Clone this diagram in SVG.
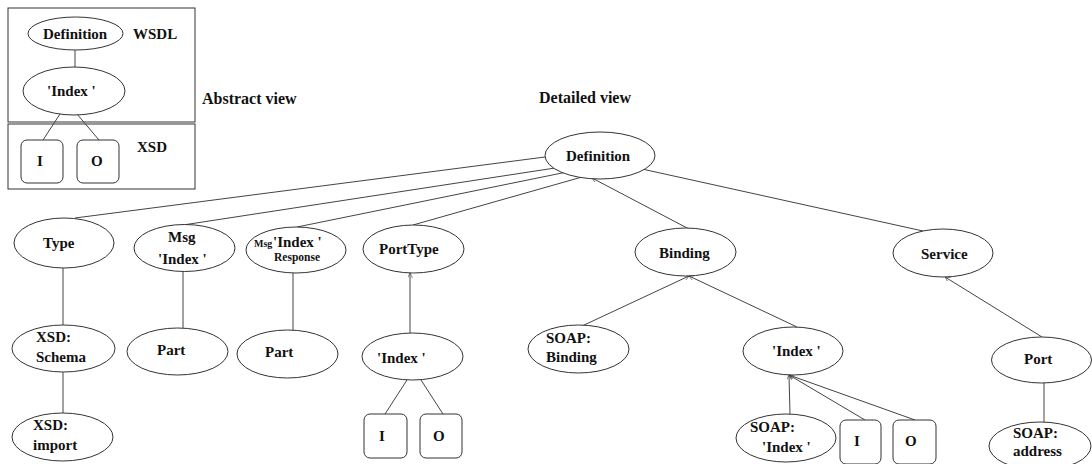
<svg xmlns="http://www.w3.org/2000/svg" width="1092" height="464" viewBox="0 0 1092 464" font-family="Liberation Serif, Times New Roman, serif" font-weight="bold" font-size="15">
<style>
.n{fill:#fff;stroke:#333;stroke-width:1}
.f{fill:none;stroke:#333;stroke-width:1}
.c line{stroke:#444;stroke-width:1}
text{fill:#111}
.s{font-size:10px}
.r{font-size:11.5px}
.h{font-size:16px}
</style>
<defs>
<marker id="a" viewBox="0 0 8 8" refX="8" refY="4" markerWidth="5" markerHeight="5" orient="auto"><path d="M0,0L8,4L0,8" fill="none" stroke="#444" stroke-width="1"/></marker>
</defs>
<rect width="1092" height="464" fill="#fff"/>

<g id="abstract">
<rect class="f" x="8" y="8" width="187" height="114"/>
<rect class="f" x="8" y="124" width="187" height="65"/>
<g class="c">
<line x1="75" y1="50" x2="75" y2="67"/>
<line x1="60" y1="114" x2="43" y2="140"/>
<line x1="77" y1="114" x2="99" y2="140"/>
</g>
<g id="a-def"><ellipse class="n" cx="75.5" cy="33.5" rx="47.5" ry="16.5"/><text x="43" y="39">Definition</text></g>
<g id="a-index"><ellipse class="n" cx="74" cy="91" rx="51" ry="24"/><text x="47" y="96">'Index '</text></g>
<g id="a-i"><rect class="n" x="21" y="140" width="42" height="43" rx="6"/><text x="37" y="166">I</text></g>
<g id="a-o"><rect class="n" x="77" y="140" width="42" height="43" rx="6"/><text x="91" y="166">O</text></g>
<text x="133" y="39">WSDL</text>
<text x="137" y="152">XSD</text>
<text class="h" x="202" y="104">Abstract view</text>
</g>

<text class="h" x="539" y="103">Detailed view</text>

<g id="connectors" class="c">
<line x1="545" y1="157" x2="75" y2="218"/>
<line x1="555" y1="168" x2="183" y2="225"/>
<line x1="567" y1="172" x2="297" y2="227"/>
<line x1="582" y1="177" x2="413" y2="225"/>
<line x1="689" y1="229" x2="592" y2="178" marker-end="url(#a)"/>
<line x1="642" y1="169" x2="923" y2="231"/>
<line x1="63" y1="268" x2="63" y2="325"/>
<line x1="63" y1="372" x2="63" y2="413"/>
<line x1="183" y1="272" x2="183" y2="328"/>
<line x1="293" y1="273" x2="293" y2="330"/>
<line x1="410" y1="333" x2="410" y2="273" marker-end="url(#a)"/>
<line x1="407" y1="380" x2="385" y2="414"/>
<line x1="421" y1="380" x2="443" y2="414"/>
<line x1="582" y1="326" x2="689" y2="276" marker-end="url(#a)"/>
<line x1="797" y1="327" x2="689" y2="276" marker-end="url(#a)"/>
<line x1="790" y1="414" x2="789" y2="375" marker-end="url(#a)"/>
<line x1="865" y1="420" x2="789" y2="375" marker-end="url(#a)"/>
<line x1="915" y1="420" x2="789" y2="375" marker-end="url(#a)"/>
<line x1="1042" y1="337" x2="945" y2="277" marker-end="url(#a)"/>
<line x1="1044" y1="383" x2="1044" y2="422"/>
</g>

<g id="definition"><ellipse class="n" cx="600" cy="155.5" rx="55" ry="23.5"/><text x="566" y="161">Definition</text></g>
<g id="type"><ellipse class="n" cx="64" cy="243" rx="50" ry="25"/><text x="43" y="248">Type</text></g>
<g id="msg-index"><ellipse class="n" cx="184.5" cy="248" rx="50.5" ry="23.5"/><text x="168" y="242">Msg</text><text x="158" y="264">'Index '</text></g>
<g id="msg-response"><ellipse class="n" cx="296" cy="250" rx="50" ry="23"/><text class="s" x="254" y="247">Msg</text><text x="273" y="247">'Index '</text><text class="r" x="274" y="261">Response</text></g>
<g id="porttype"><ellipse class="n" cx="413.5" cy="249" rx="50.5" ry="24"/><text x="379" y="254">PortType</text></g>
<g id="binding"><ellipse class="n" cx="685.5" cy="252" rx="50.5" ry="24"/><text x="659" y="258">Binding</text></g>
<g id="service"><ellipse class="n" cx="943" cy="253" rx="50" ry="24"/><text x="921" y="259">Service</text></g>
<g id="xsd-schema"><ellipse class="n" cx="63.5" cy="348.5" rx="51.5" ry="23.5"/><text x="36" y="342">XSD:</text><text x="36" y="362">Schema</text></g>
<g id="xsd-import"><ellipse class="n" cx="62.5" cy="437" rx="50.5" ry="24"/><text x="33" y="430">XSD:</text><text x="33" y="450">import</text></g>
<g id="part1"><ellipse class="n" cx="177.5" cy="351.5" rx="50.5" ry="23.5"/><text x="157" y="355">Part</text></g>
<g id="part2"><ellipse class="n" cx="287.5" cy="354" rx="50.5" ry="24"/><text x="265" y="357">Part</text></g>
<g id="pt-index"><ellipse class="n" cx="412.5" cy="356.5" rx="50.5" ry="23.5"/><text x="377" y="363">'Index '</text></g>
<g id="pt-i"><rect class="n" x="364" y="414" width="43" height="44" rx="6"/><text x="379" y="441">I</text></g>
<g id="pt-o"><rect class="n" x="420" y="414" width="42" height="44" rx="6"/><text x="433" y="441">O</text></g>
<g id="soap-binding"><ellipse class="n" cx="578.5" cy="349" rx="50.5" ry="24"/><text x="546" y="343">SOAP:</text><text x="546" y="362">Binding</text></g>
<g id="b-index"><ellipse class="n" cx="793" cy="351" rx="50" ry="24"/><text x="772" y="356">'Index '</text></g>
<g id="soap-index"><ellipse class="n" cx="786" cy="438" rx="50" ry="24"/><text x="750" y="432">SOAP:</text><text x="762" y="452">'Index '</text></g>
<g id="b-i"><rect class="n" x="840" y="420" width="41" height="44" rx="6"/><text x="854" y="446">I</text></g>
<g id="b-o"><rect class="n" x="893" y="420" width="43" height="44" rx="6"/><text x="905" y="446">O</text></g>
<g id="port"><ellipse class="n" cx="1041.5" cy="360" rx="50" ry="23"/><text x="1024" y="364">Port</text></g>
<g id="soap-address"><ellipse class="n" cx="1040" cy="446" rx="51" ry="24"/><text x="1013" y="438">SOAP:</text><text x="1013" y="456">address</text></g>
</svg>
